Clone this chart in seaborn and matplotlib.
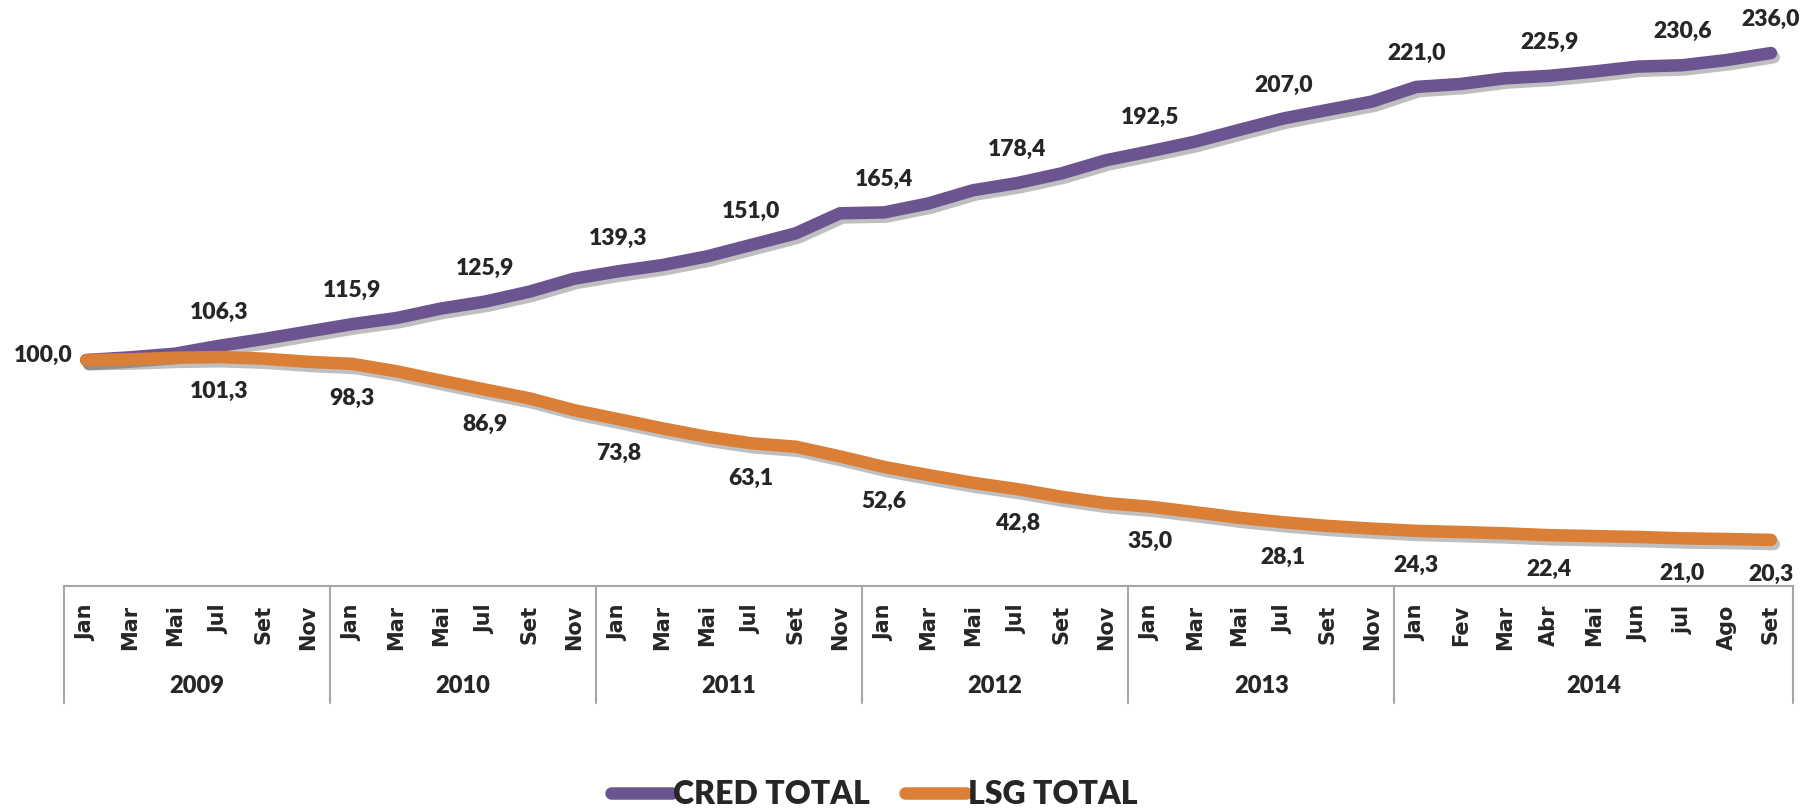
import matplotlib
matplotlib.use("Agg")
import matplotlib.pyplot as plt
import matplotlib.patheffects as pe
from matplotlib.lines import Line2D
import numpy as np
import pandas as pd
import seaborn as sns

months = (["Jan", "Mar", "Mai", "Jul", "Set", "Nov"] * 5
          + ["Jan", "Fev", "Mar", "Abr", "Mai", "Jun", "jul", "Ago", "Set"])
years = ["2009", "2010", "2011", "2012", "2013", "2014"]
year_sizes = [6, 6, 6, 6, 6, 9]

cred_total = [100.0, 101.2, 102.8, 106.3, 109.3, 112.6,
              115.9, 118.6, 122.8, 125.9, 130.3, 136.0,
              139.3, 142.1, 145.9, 151.0, 156.1, 165.0,
              165.4, 169.4, 175.2, 178.4, 182.7, 188.5,
              192.5, 196.7, 201.9, 207.0, 210.8, 214.5,
              221.0, 222.3, 224.8, 225.9, 227.8, 230.0, 230.6, 232.9, 236.0]
lsg_total = [100.0, 100.3, 101.0, 101.3, 100.6, 99.2,
             98.3, 95.0, 90.9, 86.9, 83.0, 77.8,
             73.8, 69.7, 66.0, 63.1, 61.6, 57.3,
             52.6, 49.0, 45.6, 42.8, 39.4, 36.6,
             35.0, 32.6, 30.1, 28.1, 26.5, 25.3,
             24.3, 23.8, 23.2, 22.4, 22.0, 21.6, 21.0, 20.7, 20.3]
label_idx = [3, 6, 9, 12, 15, 18, 21, 24, 27, 30, 33, 36, 38]

series_names = ["CRED TOTAL", "LSG TOTAL"]
colors = {"CRED TOTAL": "#6C5490", "LSG TOTAL": "#DB7F37"}

x = np.arange(len(months))
frame = pd.DataFrame({
    "x": np.concatenate([x, x]),
    "value": cred_total + lsg_total,
    "series": [series_names[0]] * len(x) + [series_names[1]] * len(x),
})

sns.set_style("white")
plt.rcParams["font.family"] = ["Lato", "DejaVu Sans"]

fig = plt.figure(figsize=(18, 8.09), dpi=100)
ax = fig.add_axes([0.0356, 0.276, 0.9606, 0.6975])

shadow = [pe.SimpleLineShadow(offset=(2, -3), shadow_color="black", alpha=0.25), pe.Normal()]
sns.lineplot(data=frame, x="x", y="value", hue="series", palette=colors,
             linewidth=9, ax=ax, legend=False, sort=False)
for line in ax.get_lines():
    line.set_solid_capstyle("round")
    line.set_solid_joinstyle("round")
    line.set_path_effects(shadow)

ax.set_xlim(-0.5, len(months) - 0.5)
ax.set_ylim(0, 250)
ax.set_xlabel("")
ax.set_ylabel("")
ax.set_yticks([])
ax.set_xticks(x)
ax.set_xticklabels(months, rotation=90, fontsize=15, fontweight="bold",
                   family="DejaVu Sans")
ax.tick_params(axis="x", length=0, pad=13.5)
for side in ["top", "left", "right"]:
    ax.spines[side].set_visible(False)
ax.spines["bottom"].set_color("#A6A6A6")
ax.spines["bottom"].set_linewidth(1.5)

# year group separators and labels under the month labels
trans = ax.get_xaxis_transform()
bounds = np.concatenate([[0], np.cumsum(year_sizes)]) - 0.5
for b in bounds:
    ax.plot([b, b], [0, -0.208], transform=trans, color="#A6A6A6",
            linewidth=1.5, clip_on=False)
for i, year in enumerate(years):
    center = (bounds[i] + bounds[i + 1]) / 2
    ax.text(center, -0.178, year, transform=trans, ha="center", va="center",
            fontsize=17, fontweight="heavy")

# data labels
ax.annotate("100,0", (0, cred_total[0]), xytext=(-10, 3), textcoords="offset points",
            ha="right", va="center", fontsize=16.5, fontweight="heavy")
for i in label_idx:
    ax.annotate(f"{cred_total[i]:.1f}".replace(".", ","), (i, cred_total[i]),
                xytext=(0, 24), textcoords="offset points", ha="center", va="center",
                fontsize=16.5, fontweight="heavy", annotation_clip=False)
    ax.annotate(f"{lsg_total[i]:.1f}".replace(".", ","), (i, lsg_total[i]),
                xytext=(0, -25), textcoords="offset points", ha="center", va="center",
                fontsize=16.5, fontweight="heavy", annotation_clip=False)

handles = [Line2D([0], [0], color=colors[name], linewidth=9, solid_capstyle="round")
           for name in series_names]
leg = fig.legend(handles, series_names, loc="center", bbox_to_anchor=(0.4856, 0.018),
                 ncol=2, frameon=False, handlelength=1.9, handletextpad=0.05,
                 columnspacing=1.1, prop={"size": 23, "weight": "heavy"})

fig.savefig("out.png", dpi=100)
